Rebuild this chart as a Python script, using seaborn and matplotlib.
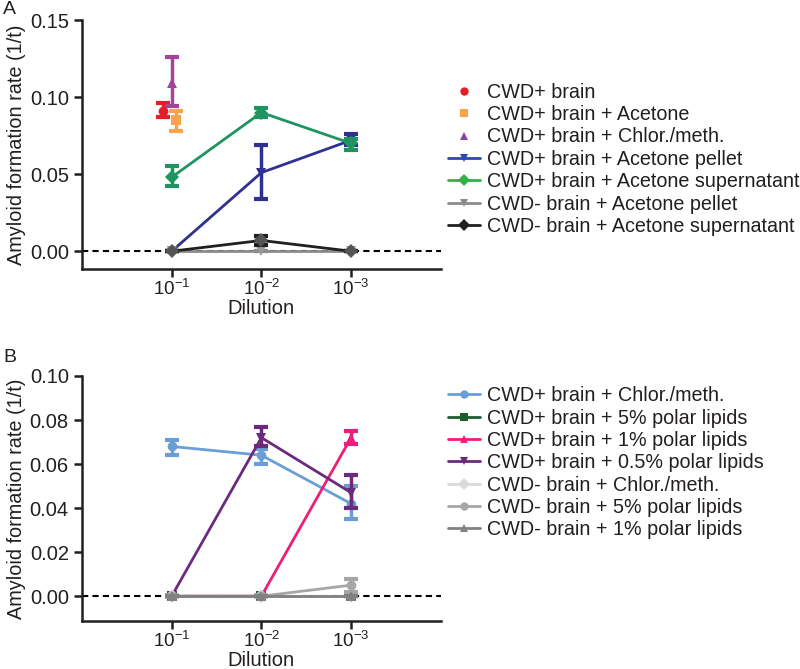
import numpy as np
import pandas as pd
import matplotlib
matplotlib.use("Agg")
import matplotlib.pyplot as plt
import seaborn as sns
from matplotlib.lines import Line2D

# Dilution categories
dilution_labels = ["10$^{-1}$", "10$^{-2}$", "10$^{-3}$"]
dilution_pos = [1, 2, 3]

# Panel A series (means, lower and upper error bounds)
a_names = ["CWD+ brain", "CWD+ brain + Acetone", "CWD+ brain + Chlor./meth.",
           "CWD+ brain + Acetone pellet", "CWD+ brain + Acetone supernatant",
           "CWD- brain + Acetone pellet", "CWD- brain + Acetone supernatant"]
a_x = [[0.9], [1.05], [1.0], [1, 2, 3], [1, 2, 3], [1, 2, 3], [1, 2, 3]]
a_mean = [[0.091], [0.085], [0.109], [0.0, 0.051, 0.072], [0.048, 0.090, 0.070],
          [0.0, 0.0, 0.0], [0.0, 0.007, 0.0]]
a_low = [[0.087], [0.078], [0.094], [0.0, 0.034, 0.069], [0.042, 0.087, 0.066],
         [0.0, 0.0, 0.0], [0.0, 0.004, 0.0]]
a_high = [[0.096], [0.091], [0.126], [0.0, 0.069, 0.076], [0.055, 0.093, 0.073],
          [0.0, 0.0, 0.0], [0.0, 0.010, 0.0]]
a_colors = ["#e41e26", "#f9a34a", "#a3449b", "#2e3192", "#1f9460", "#8c8c8c", "#231f20"]
a_mcolors = ["#e41e26", "#f9a34a", "#a3449b", "#2e3192", "#1f9460", "#9a9a9a", "#555555"]
a_legend_colors = ["#e41e26", "#f9a34a", "#8e44a8", "#2e4aa8", "#2db34a", "#8c8c8c", "#231f20"]
a_markers = ["o", "s", "^", "v", "D", "v", "D"]

# Panel B series
b_names = ["CWD+ brain + Chlor./meth.", "CWD+ brain + 5% polar lipids",
           "CWD+ brain + 1% polar lipids", "CWD+ brain + 0.5% polar lipids",
           "CWD- brain + Chlor./meth.", "CWD- brain + 5% polar lipids",
           "CWD- brain + 1% polar lipids"]
b_mean = [[0.068, 0.064, 0.042], [0.0, 0.0, 0.0], [0.0, 0.0, 0.072], [0.0, 0.072, 0.047],
          [0.0, 0.0, 0.0], [0.0, 0.0, 0.005], [0.0, 0.0, 0.0]]
b_low = [[0.064, 0.060, 0.035], [0.0, 0.0, 0.0], [0.0, 0.0, 0.069], [0.0, 0.068, 0.040],
         [0.0, 0.0, 0.0], [0.0, 0.0, 0.002], [0.0, 0.0, 0.0]]
b_high = [[0.071, 0.067, 0.050], [0.0, 0.0, 0.0], [0.0, 0.0, 0.075], [0.0, 0.077, 0.055],
          [0.0, 0.0, 0.0], [0.0, 0.0, 0.008], [0.0, 0.0, 0.0]]
b_colors = ["#6a9ed6", "#1c5e30", "#ec1e79", "#6b2a7c", "#d9d9d9", "#a6a6a6", "#808080"]
b_markers = ["o", "s", "^", "v", "D", "o", "^"]

sns.set_style("ticks")
plt.rcParams["font.family"] = ["Liberation Sans", "DejaVu Sans"]
plt.rcParams["mathtext.default"] = "regular"
plt.rcParams["text.color"] = "#231f20"
plt.rcParams["axes.labelcolor"] = "#231f20"
plt.rcParams["xtick.color"] = "#231f20"
plt.rcParams["ytick.color"] = "#231f20"

fig = plt.figure(figsize=(8, 6.69), dpi=100)
ax_a = fig.add_axes([0.1025, 0.598, 0.4485, 0.372])
ax_b = fig.add_axes([0.1025, 0.072, 0.4485, 0.366])


def draw_panel(ax, names, xs, means, lows, highs, colors, mcolors, markers, ylim, yticks):
    ax.axhline(0, color="black", lw=1.5, ls=(0, (3, 2)), zorder=1)
    for i, name in enumerate(names):
        df = pd.DataFrame({"x": xs[i], "y": means[i]})
        m = np.array(means[i])
        yerr = [m - np.array(lows[i]), np.array(highs[i]) - m]
        ax.errorbar(xs[i], means[i], yerr=yerr, fmt="none", ecolor=colors[i],
                    elinewidth=2.5, capsize=5, capthick=3, zorder=2 + i)
        sns.lineplot(data=df, x="x", y="y", ax=ax, color=colors[i], lw=2,
                     marker=markers[i], markersize=7, markeredgewidth=0,
                     markerfacecolor=mcolors[i], zorder=2 + i, legend=False)
    ax.set_xlim(0, 4)
    ax.set_ylim(*ylim)
    ax.set_yticks(yticks)
    ax.set_yticklabels([f"{t:.2f}" for t in yticks])
    ax.set_xticks(dilution_pos)
    ax.set_xticklabels(dilution_labels)
    ax.set_xlabel("Dilution", fontsize=14.5, labelpad=0)
    ax.set_ylabel("Amyloid formation rate (1/t)", fontsize=14.3, labelpad=3)
    ax.tick_params(axis="y", labelsize=14.5, width=1.8, length=6)
    ax.tick_params(axis="x", labelsize=13.5, width=1.8, length=6, pad=1)
    for s in ["top", "right"]:
        ax.spines[s].set_visible(False)
    for s in ["left", "bottom"]:
        ax.spines[s].set_linewidth(1.8)
        ax.spines[s].set_color("#231f20")


draw_panel(ax_a, a_names, a_x, a_mean, a_low, a_high, a_colors, a_mcolors, a_markers,
           (-0.0115, 0.15), [0.0, 0.05, 0.10, 0.15])
b_x = [dilution_pos] * len(b_names)
draw_panel(ax_b, b_names, b_x, b_mean, b_low, b_high, b_colors, b_colors, b_markers,
           (-0.0112, 0.10), [0.0, 0.02, 0.04, 0.06, 0.08, 0.10])

# Legends
a_handles = []
for i in range(len(a_names)):
    ls = "none" if i < 3 else "-"
    a_handles.append(Line2D([], [], color=a_legend_colors[i], lw=2, ls=ls,
                            marker=a_markers[i], markersize=6, markeredgewidth=0))
fig.legend(a_handles, a_names, loc="upper left", bbox_to_anchor=(0.548, 0.891),
           frameon=False, fontsize=14.2, labelspacing=0.17, handlelength=1.6,
           handletextpad=0.35, borderpad=0)

b_handles = []
for i in range(len(b_names)):
    b_handles.append(Line2D([], [], color=b_colors[i], lw=2, marker=b_markers[i],
                            markersize=6, markeredgewidth=0))
fig.legend(b_handles, b_names, loc="upper left", bbox_to_anchor=(0.548, 0.4375),
           frameon=False, fontsize=14.2, labelspacing=0.17, handlelength=1.6,
           handletextpad=0.35, borderpad=0)

fig.text(0.004, 0.998, "A", fontsize=14, va="top")
fig.text(0.004, 0.478, "B", fontsize=14, va="top")

fig.savefig("out.png", dpi=100)
